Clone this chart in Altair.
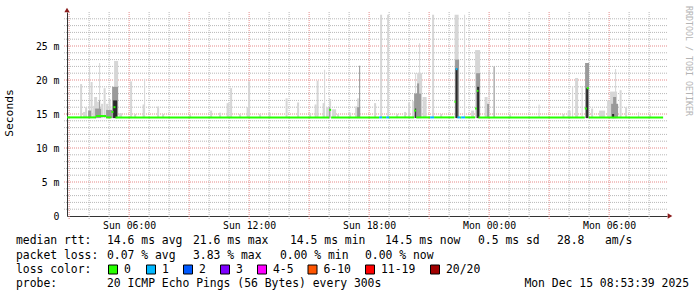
import altair as alt
import pandas as pd

# ---------------- data ----------------
# times are minutes after Sun 2025-12-14 00:00 (local)
DAY0 = pd.Timestamp("2025-12-14 00:00:00")
VIEW_START = pd.Timestamp("2025-12-14 02:53:39")
VIEW_END = pd.Timestamp("2025-12-15 08:53:39")

SMOKE_BOTTOM = 14.4  # ms, lowest ping

# light smoke (spread of all 20 pings)
LIGHT_START = [213, 222, 228, 240, 244.5, 252, 255, 264, 270, 276, 283.5, 291, 298.5, 307.5, 315, 330,
               363, 375, 400.5, 405, 444, 459, 540, 603, 630, 652.5, 663, 690, 712.5, 717, 750,
               778.5, 829.5, 864, 900, 916.5, 922.5, 940.5, 945, 951, 960,
               969, 984, 1020, 1038, 1044, 1050, 1095, 1113, 1134, 1161, 1185, 1197, 1209, 1218, 1224, 1230,
               1240.5, 1269, 1293, 1336.5, 1365, 1386, 1398, 1426.5, 1438.5, 1453.5, 1500, 1588.5,
               1660, 1675.5, 1689, 1698, 1717.5, 1729.5, 1746, 1770, 1794, 1803, 1818, 1831.5, 1848, 1887, 1920]
LIGHT_LEN = [6, 6, 6, 3, 6, 6, 9, 6, 3, 6, 6, 6, 6, 6, 12, 9,
             6, 6, 6, 3, 6, 6, 6, 6, 6, 9, 6, 6, 6, 6, 6,
             6, 6, 6, 6, 6, 6, 6, 3, 9, 6,
             12, 6, 6, 6, 9, 3, 6, 6, 6, 6, 6, 6, 9, 3, 15, 3,
             12, 6, 6, 12, 3, 9, 15, 9, 3, 3, 6, 3,
             6, 9, 3, 9, 3, 9, 6, 18, 12, 21, 3, 6, 6, 3, 6]
LIGHT_TOP = [19.4, 15.3, 16.0, 22.0, 19.7, 16.2, 17.5, 16.8, 22.5, 16.5, 18.8, 16.5, 17.2, 16.2, 22.8, 15.1,
             19.8, 15.0, 16.4, 20.2, 16.1, 15.0, 14.9, 15.5, 15.2, 16.6, 18.8, 15.0, 16.0, 19.8, 15.0,
             15.2, 17.3, 16.7, 15.1, 16.4, 19.9, 16.6, 21.5, 16.0, 17.2,
             15.7, 15.0, 15.2, 16.1, 17.3, 22.1, 16.6, 29.6, 29.6, 15.0, 15.3, 16.6, 16.9, 21.0, 21.0, 25.4,
             17.5, 29.6, 15.0, 29.6, 29.6, 15.5, 24.4, 17.5, 21.5, 22.0, 15.0, 16.4,
             15.0, 15.5, 19.1, 20.3, 19.1, 22.5, 15.8, 15.5, 17.0, 18.3, 21.6, 18.5, 16.0, 15.3, 14.9]

# medium smoke (where many pings overlap)
MID_START = [237, 258, 270, 291, 309, 960, 1044, 1050, 1215, 1224, 1338, 1401, 1434, 1453.5, 1728, 1806, 1812]
MID_LEN = [9, 18, 3, 18, 18, 3, 9, 3, 21, 6, 12, 12, 6, 3, 12, 21, 9]
MID_TOP = [15.5, 15.8, 17.0, 15.6, 19.0, 16.0, 16.0, 22.1, 18.0, 19.5, 23.0, 21.0, 16.5, 22.0, 22.5, 16.5, 17.5]

# dark smoke (nearly all pings)
DARK_START = [312, 1218, 1339.5, 1404, 1731, 1809]
DARK_LEN = [12, 3, 6, 6, 6, 6]
DARK_TOP = [17.0, 15.8, 21.7, 19.0, 18.8, 15.0]

# median rtt segments with packet-loss class
MED_START = [174, 261, 291, 307, 313, 319, 960, 966, 1110, 1119, 1131, 1140, 1215, 1221, 1263, 1275,
             1336, 1340, 1345, 1353, 1356, 1368, 1398, 1403, 1408, 1727, 1733, 1739]
MED_END = [261, 291, 307, 313, 319, 960, 966, 1110, 1119, 1131, 1140, 1215, 1221, 1263, 1275, 1336,
           1340, 1345, 1353, 1356, 1368, 1398, 1403, 1408, 1727, 1733, 1739, 1962]
MED_VALUE = [14.5, 14.7, 14.5, 15.3, 16.0, 14.5, 15.6, 14.5, 14.5, 14.5, 14.5, 14.5, 15.5, 14.5, 14.5, 14.5,
             16.8, 21.6, 14.5, 14.5, 14.5, 14.5, 15.8, 18.4, 14.5, 15.8, 18.8, 14.5]
MED_LOSS = ["0", "0", "0", "0", "0", "0", "0", "0", "1", "0", "1", "0", "0", "0", "1", "0",
            "0", "1", "1", "0", "1", "0", "0", "0", "0", "0", "0", "0"]

LOSS_LABELS = ["0", "1", "2", "3", "4-5", "6-10", "11-19", "20/20"]
LOSS_COLORS = ["#26ff00", "#00b8ff", "#0059ff", "#7e00ff", "#ff00ff", "#ff5500", "#ff0000", "#a10000"]

Y_TICKS = [0, 5, 10, 15, 20, 25]
X_LABEL_TIMES = ["2025-12-14 06:00", "2025-12-14 12:00", "2025-12-14 18:00",
                 "2025-12-15 00:00", "2025-12-15 06:00"]

STATS_RTT = ["14.6 ms avg", "21.6 ms max", "14.5 ms min", "14.5 ms now", "0.5 ms sd", "28.8", "am/s"]
STATS_LOSS = ["0.07 % avg", "3.83 % max", "0.00 % min", "0.00 % now"]
PROBE = "20 ICMP Echo Pings (56 Bytes) every 300s"
STAMP = "Mon Dec 15 08:53:39 2025"

# ---------------- layout ----------------
W, H = 600, 204
PAD_L, PAD_T = 67, 12
MONO = "DejaVu Sans Mono"


def tstr(ts):
    return ts.strftime("%Y-%m-%dT%H:%M:%S")


def mins(m):
    return tstr(DAY0 + pd.Timedelta(minutes=float(m)))


def smoke_df(starts, lens, tops):
    return pd.DataFrame({
        "t": [mins(s) for s in starts],
        "t2": [mins(s + l) for s, l in zip(starts, lens)],
        "lo": [SMOKE_BOTTOM] * len(starts),
        "hi": tops,
    })


def dt(ts):
    return alt.DateTime(year=ts.year, month=ts.month, date=ts.day,
                        hours=ts.hour, minutes=ts.minute, seconds=ts.second)


XS = alt.Scale(domain=[dt(VIEW_START), dt(VIEW_END)])
YS = alt.Scale(domain=[0, 30], nice=False, zero=True)

XAX = alt.Axis(values=[dt(pd.Timestamp(s)) for s in X_LABEL_TIMES], format="%a %H:%M",
               grid=False, ticks=False, labelPadding=4, labelFont=MONO, labelFontSize=9.8,
               labelColor="#000", domain=True, domainColor="#333", domainWidth=1,
               labelFlush=False, title=None)
YAX = alt.Axis(values=Y_TICKS, labelExpr="datum.value == 0 ? '0' : datum.value + ' m'",
               grid=False, ticks=False, labelPadding=8, labelFont=MONO, labelFontSize=9.8,
               labelColor="#000", domain=True, domainColor="#333", domainWidth=1, title=None)


def X(field):
    return alt.X(field, scale=XS, axis=XAX, title=None)


def Y(field):
    return alt.Y(field, scale=YS, axis=YAX, title=None)


# grid positions
hours = pd.date_range("2025-12-14 03:00", "2025-12-15 08:00", freq="1h")
minor_v = pd.DataFrame({"t": [tstr(h) for h in hours if h.hour % 3 != 0]})
major_v = pd.DataFrame({"t": [tstr(h) for h in hours if h.hour % 3 == 0]})
minor_h = pd.DataFrame({"v": [v for v in range(1, 30) if v % 5 != 0]})
major_h = pd.DataFrame({"v": [v for v in range(5, 30, 5)]})

GRID_MINOR = "#b8b8b8"
GRID_MAJOR = "#e58a8a"

grid_mv = alt.Chart(minor_v).mark_rule(color=GRID_MINOR, strokeDash=[1, 1], strokeWidth=1).encode(
    x=X("t:T"), y=alt.value(0), y2=alt.value(H + 3))
grid_Mv = alt.Chart(major_v).mark_rule(color=GRID_MAJOR, strokeDash=[1, 1], strokeWidth=1).encode(
    x=X("t:T"), y=alt.value(0), y2=alt.value(H + 3))
grid_mh = alt.Chart(minor_h).mark_rule(color=GRID_MINOR, strokeDash=[1, 1], strokeWidth=1).encode(
    y=Y("v:Q"), x=alt.value(-3), x2=alt.value(W))
grid_Mh = alt.Chart(major_h).mark_rule(color=GRID_MAJOR, strokeDash=[1, 1], strokeWidth=1).encode(
    y=Y("v:Q"), x=alt.value(-3), x2=alt.value(W))


def smoke_layer(df, color):
    return alt.Chart(df).mark_rect(color=color).encode(x=X("t:T"), x2="t2:T", y=Y("lo:Q"), y2="hi:Q")


light = smoke_layer(smoke_df(LIGHT_START, LIGHT_LEN, LIGHT_TOP), "#d6d6d6")
mid = smoke_layer(smoke_df(MID_START, MID_LEN, MID_TOP), "#9a9a9a")
dark = smoke_layer(smoke_df(DARK_START, DARK_LEN, DARK_TOP), "#2a2a2a")

med_df = pd.DataFrame({
    "t": [mins(s) for s in MED_START],
    "t2": [mins(e) for e in MED_END],
    "v": MED_VALUE,
    "loss": MED_LOSS,
})
median = alt.Chart(med_df).mark_rule(strokeWidth=2).encode(
    x=X("t:T"), x2="t2:T", y=Y("v:Q"),
    color=alt.Color("loss:N", scale=alt.Scale(domain=LOSS_LABELS, range=LOSS_COLORS), legend=None))

# axis arrows
arrow_x = alt.Chart(pd.DataFrame({"t": [tstr(VIEW_END)], "v": [0]})).mark_point(
    shape="triangle-right", filled=True, size=28, color="#8b1c1c", opacity=1, xOffset=3).encode(
    x=X("t:T"), y=Y("v:Q"))
arrow_y = alt.Chart(pd.DataFrame({"t": [tstr(VIEW_START)], "v": [30]})).mark_point(
    shape="triangle-up", filled=True, size=28, color="#8b1c1c", opacity=1, yOffset=-2).encode(
    x=X("t:T"), y=Y("v:Q"))

ONE = alt.Data(values=[{"a": 1}])


def txt(s, x, y, size=11.4, color="#000000", align="left", angle=0):
    return alt.Chart(ONE).mark_text(text=s, align=align, baseline="middle", fontSize=size,
                                    font=MONO, color=color, angle=angle).encode(
        x=alt.value(x - PAD_L), y=alt.value(y - PAD_T))


texts = [
    txt("Seconds", 10, 113, size=11.3, align="center", angle=270),
    txt("RRDTOOL / TOBI OETIKER", 688, 6, size=8.3, color="#b4b4b4", angle=90),
]

RTT_X = [107, 193, 290, 385, 478, 557, 605]
LOSS_X = [107, 193, 280, 365]
BOX_X = [108, 146, 183, 220, 257, 307.5, 365, 430]
ROWS_Y = [241, 255.5, 269.5, 283.5]

texts.append(txt("median rtt:", 16, ROWS_Y[0]))
for s, x in zip(STATS_RTT, RTT_X):
    texts.append(txt(s, x, ROWS_Y[0]))
texts.append(txt("packet loss:", 16, ROWS_Y[1]))
for s, x in zip(STATS_LOSS, LOSS_X):
    texts.append(txt(s, x, ROWS_Y[1]))
texts.append(txt("loss color:", 16, ROWS_Y[2]))
boxes = []
for lab, col, x in zip(LOSS_LABELS, LOSS_COLORS, BOX_X):
    texts.append(txt(lab, x + 16, ROWS_Y[2]))
    boxes.append(alt.Chart(ONE).mark_rect(color=col, stroke="#000000", strokeWidth=1).encode(
        x=alt.value(x - PAD_L + 0.5), x2=alt.value(x - PAD_L + 9.5),
        y=alt.value(ROWS_Y[2] - PAD_T - 4.5), y2=alt.value(ROWS_Y[2] - PAD_T + 4.5)))
texts.append(txt("probe:", 16, ROWS_Y[3]))
texts.append(txt(PROBE, 107, ROWS_Y[3]))
texts.append(txt(STAMP, 689, ROWS_Y[3], align="right"))

chart = alt.layer(
    grid_mv, grid_Mv, grid_mh, grid_Mh, light, mid, dark, median, arrow_x, arrow_y, *boxes, *texts
).properties(
    width=W, height=H,
    autosize=alt.AutoSizeParams(type="none"),
    padding={"left": PAD_L, "top": PAD_T, "right": 697 - PAD_L - W, "bottom": 297 - PAD_T - H},
    background="#ffffff",
).configure_view(stroke=None)

chart.save("out.html", embed_options={"renderer": "svg", "actions": False})
